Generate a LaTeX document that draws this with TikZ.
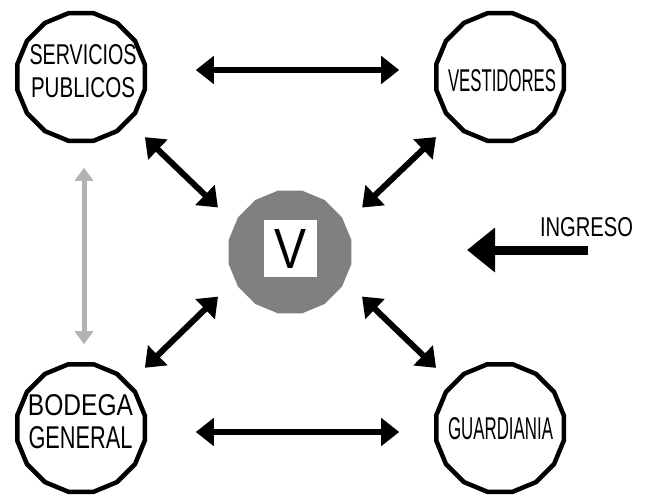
\documentclass[tikz,border=0pt]{standalone}
\usepackage{fontspec}
\setmainfont{Liberation Sans}
\usetikzlibrary{arrows.meta,shapes.geometric}
\newcommand{\fitw}[3]{\resizebox{#1pt}{#2pt}{#3}}

\begin{document}
\begin{tikzpicture}[x=1pt, y=-1pt,
	area/.style={regular polygon, regular polygon sides=16, draw, line width=4.5pt, minimum size=130pt, inner sep=0pt, outer sep=0pt},
	areatext/.style={inner sep=0pt, align=center, font=\fontsize{20}{33}\selectfont},
	dbl/.style={line width=6pt, {Triangle[length=18pt,width=27pt]}-{Triangle[length=18pt,width=27pt]}, shorten <=24pt, shorten >=24pt}]
	\useasboundingbox (0,0) rectangle (652,495);
	\node[area] (sp) at (81,77) {};
	\node[area] (ve) at (500,77) {};
	\node[area] (bg) at (81,428) {};
	\node[area] (gu) at (500,428) {};
	\node[areatext] (spt) at (83,71.5) {\fitw{107}{20}{SERVICIOS}\\\fitw{104}{20}{PUBLICOS}};
	\node[areatext] (vet) at (502,81) {\fitw{108}{22}{VESTIDORES}};
	\node[areatext] (bgt) at (80.5,422) {\fitw{105}{21}{BODEGA}\\\fitw{104}{22}{GENERAL}};
	\node[areatext] (gut) at (500.5,429) {\fitw{105}{22}{GUARDIANIA}};
	\node[regular polygon, regular polygon sides=16, fill=black!50, minimum size=125pt, inner sep=0pt, outer sep=0pt] (v) at (290,252) {};
	\node[fill=white, minimum width=53pt, minimum height=57pt, inner sep=0pt] (vl) at (290.5,248.5) {\fitw{32}{39}{V}};
	\draw[dbl] (sp.-43) -- (v.153);
	\draw[dbl] (ve.-137) -- (v.27);
	\draw[dbl] (bg.43) -- (v.-153);
	\draw[dbl] (gu.137) -- (v.-27);
	\draw[dbl, shorten <=51pt, shorten >=37pt] ([yshift=7pt]sp.east) -- ([yshift=7pt]ve.west);
	\draw[dbl, shorten <=51pt, shorten >=37pt] ([yshift=-4pt]bg.east) -- ([yshift=-4pt]gu.west);
	\draw[black!30, line width=5pt, {Triangle[length=13pt,width=18pt]}-{Triangle[length=13pt,width=18pt]}, shorten <=27pt, shorten >=20pt] ([xshift=3pt]sp.south) -- ([xshift=3pt]bg.north);
	\coordinate (inA) at (588,250);
	\coordinate (inB) at (467,250);
	\draw[line width=9pt, -{Triangle[length=28pt,width=43pt]}] (inA) -- (inB);
	\node[inner sep=0pt] (ing) at (586.5,227.5) {\fitw{93}{19}{INGRESO}};
\end{tikzpicture}
\end{document}
